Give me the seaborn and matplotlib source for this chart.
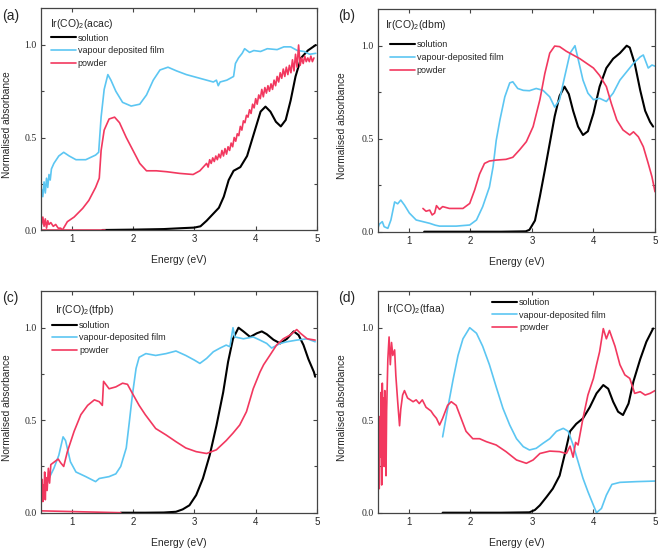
import matplotlib
matplotlib.use("Agg")
import matplotlib.pyplot as plt
import seaborn as sns
import pandas as pd
from matplotlib.lines import Line2D
from matplotlib.ticker import MultipleLocator

# ---------------- data ----------------
panel_letters = ["(a)", "(b)", "(c)", "(d)"]
panel_titles = ["Ir(CO)$_2$(acac)", "Ir(CO)$_2$(dbm)", "Ir(CO)$_2$(tfpb)", "Ir(CO)$_2$(tfaa)"]
series_names = ["solution", "vapour-deposited film", "powder"]
legend_labels_a = ["solution", "vapour deposited film", "powder"]
x_ticks = [1, 2, 3, 4, 5]
y_ticks = [0.0, 0.5, 1.0]
y_tick_labels = ["0.0", "0.5", "1.0"]

# (a) Ir(CO)2(acac)
a_sol_E = [1.5, 2.0, 2.5, 2.8, 3.0, 3.1, 3.2, 3.3, 3.4, 3.48, 3.56, 3.64, 3.75, 3.86, 3.97, 4.08, 4.16, 4.24, 4.33, 4.41, 4.49, 4.57, 4.65, 4.74, 4.85, 4.98]
a_sol_A = [0.0, 0.002, 0.005, 0.01, 0.013, 0.02, 0.05, 0.085, 0.12, 0.18, 0.27, 0.32, 0.34, 0.40, 0.52, 0.64, 0.667, 0.64, 0.585, 0.56, 0.595, 0.70, 0.83, 0.93, 0.97, 1.0]
a_vap_E = [0.49, 0.51, 0.53, 0.55, 0.57, 0.59, 0.61, 0.63, 0.65, 0.67, 0.71, 0.79, 0.87, 0.96, 1.07, 1.23, 1.39, 1.44, 1.48, 1.53, 1.59, 1.64, 1.72, 1.83, 1.97, 2.11, 2.22, 2.33, 2.44, 2.57, 2.71, 2.87, 3.09, 3.31, 3.36, 3.39, 3.42, 3.53, 3.64, 3.67, 3.72, 3.78, 3.82, 3.90, 3.97, 4.08, 4.19, 4.35, 4.46, 4.57, 4.68, 4.79, 4.88, 4.98]
a_vap_A = [0.16, 0.22, 0.18, 0.26, 0.20, 0.28, 0.23, 0.30, 0.27, 0.33, 0.36, 0.40, 0.42, 0.40, 0.38, 0.38, 0.405, 0.42, 0.61, 0.76, 0.84, 0.81, 0.75, 0.69, 0.67, 0.68, 0.73, 0.81, 0.865, 0.88, 0.86, 0.84, 0.82, 0.80, 0.81, 0.78, 0.80, 0.81, 0.83, 0.90, 0.93, 0.955, 0.98, 0.96, 0.97, 0.965, 0.98, 0.975, 0.99, 0.99, 0.97, 0.965, 0.95, 0.955]
a_pow_E = [0.49, 0.51, 0.53, 0.55, 0.57, 0.59, 0.61, 0.63, 0.66, 0.70, 0.74, 0.78, 0.82, 0.85, 0.93, 1.04, 1.18, 1.28, 1.39, 1.45, 1.48, 1.53, 1.61, 1.70, 1.78, 1.89, 2.0, 2.11, 2.22, 2.38, 2.55, 2.76, 2.98, 3.09,
           3.20, 3.225, 3.25, 3.275, 3.30, 3.325, 3.35, 3.375, 3.40, 3.425, 3.45, 3.475, 3.50, 3.525, 3.55, 3.575, 3.60, 3.625, 3.65, 3.675, 3.70, 3.725, 3.75, 3.775, 3.80, 3.825, 3.85, 3.875, 3.90, 3.925, 3.95, 3.975,
           4.00, 4.025, 4.05, 4.075, 4.10, 4.125, 4.15, 4.175, 4.20, 4.225, 4.25, 4.275, 4.30, 4.325, 4.35, 4.375, 4.40, 4.425, 4.45, 4.475, 4.50, 4.525, 4.55, 4.575, 4.60, 4.625, 4.65, 4.675, 4.70, 4.725, 4.75, 4.775, 4.80, 4.825, 4.85, 4.875, 4.90, 4.925, 4.95]
a_pow_A = [0.11, 0.03, 0.07, 0.02, 0.06, 0.01, 0.05, 0.03, 0.04, 0.02, 0.03, 0.01, 0.01, 0.0, 0.045, 0.07, 0.117, 0.16, 0.23, 0.28, 0.43, 0.54, 0.60, 0.61, 0.58, 0.50, 0.43, 0.36, 0.32, 0.32, 0.315, 0.306, 0.30, 0.32,
           0.36, 0.34, 0.38, 0.36, 0.39, 0.37, 0.40, 0.38, 0.41, 0.39, 0.43, 0.40, 0.44, 0.41, 0.45, 0.43, 0.47, 0.45, 0.50, 0.48, 0.52, 0.51, 0.56, 0.54, 0.59, 0.58, 0.62, 0.61, 0.65, 0.63, 0.68, 0.66,
           0.71, 0.68, 0.73, 0.71, 0.76, 0.72, 0.77, 0.74, 0.78, 0.75, 0.79, 0.76, 0.81, 0.78, 0.83, 0.80, 0.85, 0.82, 0.87, 0.83, 0.88, 0.84, 0.89, 0.85, 0.92, 0.86, 0.95, 0.88, 1.00, 0.89, 0.93, 0.90, 0.94, 0.91, 0.93, 0.91, 0.94, 0.91, 0.93]
a_pow_base_E = [0.5, 1.55]
a_pow_base_A = [0.0, 0.0]

# (b) Ir(CO)2(dbm)
b_sol_E = [1.25, 2.0, 2.5, 2.9, 2.96, 3.05, 3.13, 3.21, 3.29, 3.37, 3.45, 3.53, 3.60, 3.67, 3.75, 3.83, 3.91, 4.0, 4.1, 4.21, 4.32, 4.43, 4.54, 4.59, 4.67, 4.76, 4.84, 4.92, 4.97]
b_sol_A = [0.0, 0.0, 0.0, 0.002, 0.01, 0.06, 0.19, 0.33, 0.475, 0.62, 0.73, 0.78, 0.74, 0.65, 0.565, 0.52, 0.54, 0.636, 0.78, 0.88, 0.93, 0.96, 1.0, 0.99, 0.905, 0.76, 0.65, 0.59, 0.565]
b_vap_E = [0.48, 0.52, 0.57, 0.60, 0.66, 0.71, 0.77, 0.82, 0.87, 0.93, 1.01, 1.12, 1.34, 1.43, 1.5, 1.77, 1.99, 2.1, 2.2, 2.31, 2.37, 2.42, 2.48, 2.56, 2.64, 2.69, 2.77, 2.86, 2.96, 3.07, 3.18, 3.29, 3.37, 3.45, 3.53, 3.62, 3.70, 3.75, 3.83, 3.91, 4.0, 4.1, 4.21, 4.32, 4.43, 4.54, 4.65, 4.76, 4.81, 4.89, 4.95, 5.0]
b_vap_A = [0.0, 0.04, 0.054, 0.027, 0.018, 0.063, 0.16, 0.15, 0.17, 0.143, 0.10, 0.063, 0.045, 0.035, 0.03, 0.03, 0.036, 0.063, 0.134, 0.24, 0.35, 0.49, 0.60, 0.725, 0.80, 0.806, 0.77, 0.76, 0.758, 0.77, 0.76, 0.725, 0.67, 0.71, 0.83, 0.96, 1.0, 0.93, 0.815, 0.745, 0.71, 0.717, 0.70, 0.745, 0.815, 0.86, 0.905, 0.94, 0.95, 0.88, 0.896, 0.89]
b_pow_E = [1.23, 1.28, 1.34, 1.38, 1.42, 1.45, 1.5, 1.55, 1.66, 1.88, 1.99, 2.07, 2.15, 2.23, 2.31, 2.42, 2.58, 2.69, 2.8, 2.91, 3.02, 3.13, 3.21, 3.29, 3.37, 3.45, 3.56, 3.67, 3.78, 3.89, 4.0, 4.1, 4.21, 4.29, 4.38, 4.48, 4.59, 4.65, 4.73, 4.81, 4.89, 4.95, 5.0]
b_pow_A = [0.125, 0.11, 0.116, 0.09, 0.10, 0.14, 0.12, 0.135, 0.125, 0.125, 0.152, 0.224, 0.31, 0.367, 0.38, 0.385, 0.389, 0.40, 0.44, 0.484, 0.565, 0.71, 0.85, 0.96, 0.998, 0.995, 0.97, 0.95, 0.93, 0.905, 0.88, 0.84, 0.78, 0.69, 0.60, 0.547, 0.52, 0.537, 0.51, 0.457, 0.367, 0.296, 0.215]

# (c) Ir(CO)2(tfpb)
c_sol_E = [1.8, 2.2, 2.5, 2.7, 2.81, 2.92, 3.03, 3.14, 3.25, 3.36, 3.47, 3.55, 3.63, 3.72, 3.80, 3.91, 4.02, 4.10, 4.18, 4.29, 4.40, 4.51, 4.62, 4.70, 4.78, 4.86, 4.95, 4.97]
c_sol_A = [0.0, 0.0, 0.001, 0.005, 0.018, 0.04, 0.095, 0.185, 0.31, 0.47, 0.65, 0.815, 0.94, 1.0, 0.98, 0.95, 0.97, 0.98, 0.965, 0.935, 0.915, 0.94, 0.98, 0.96, 0.906, 0.83, 0.76, 0.735]
c_vap_E = [0.55, 0.63, 0.71, 0.79, 0.86, 0.90, 0.98, 1.07, 1.23, 1.39, 1.45, 1.61, 1.72, 1.80, 1.89, 1.94, 1.99, 2.05, 2.10, 2.21, 2.37, 2.54, 2.70, 2.86, 3.0, 3.09, 3.2, 3.31, 3.42, 3.52, 3.58, 3.63, 3.66, 3.80, 3.96, 4.07, 4.18, 4.26, 4.40, 4.51, 4.67, 4.84, 4.97]
c_vap_A = [0.12, 0.185, 0.24, 0.31, 0.41, 0.39, 0.275, 0.22, 0.195, 0.168, 0.185, 0.195, 0.21, 0.25, 0.35, 0.49, 0.636, 0.78, 0.84, 0.86, 0.85, 0.86, 0.874, 0.85, 0.825, 0.807, 0.834, 0.87, 0.89, 0.906, 0.897, 1.0, 0.95, 0.94, 0.95, 0.933, 0.915, 0.89, 0.915, 0.924, 0.933, 0.94, 0.924]
c_pow_E = [0.49, 0.50, 0.51, 0.52, 0.53, 0.54, 0.55, 0.56, 0.57, 0.58, 0.60, 0.62, 0.64, 0.66, 0.70, 0.74, 0.78, 0.82, 0.87, 0.93, 1.04, 1.15, 1.26, 1.37, 1.45, 1.50, 1.52, 1.61, 1.72, 1.83, 1.91, 1.99, 2.10, 2.20, 2.37, 2.54, 2.70, 2.86, 3.03, 3.20, 3.36, 3.52, 3.63, 3.74, 3.85, 3.96, 4.07, 4.13, 4.23, 4.34, 4.45, 4.56, 4.67, 4.73, 4.84, 4.97]
c_pow_A = [0.0, 0.20, 0.08, 0.18, 0.06, 0.15, 0.10, 0.22, 0.07, 0.19, 0.12, 0.24, 0.16, 0.26, 0.27, 0.28, 0.29, 0.27, 0.25, 0.33, 0.44, 0.53, 0.58, 0.61, 0.60, 0.58, 0.71, 0.67, 0.68, 0.70, 0.694, 0.645, 0.58, 0.53, 0.455, 0.42, 0.384, 0.35, 0.33, 0.32, 0.34, 0.39, 0.43, 0.474, 0.546, 0.67, 0.76, 0.80, 0.85, 0.906, 0.94, 0.96, 0.99, 0.97, 0.94, 0.933]
c_pow_base_E = [0.5, 1.8]
c_pow_base_A = [0.01, 0.0]

# (d) Ir(CO)2(tfaa)
d_sol_E = [1.55, 2.0, 2.5, 2.96, 3.05, 3.13, 3.24, 3.34, 3.45, 3.53, 3.62, 3.72, 3.83, 3.94, 4.05, 4.16, 4.24, 4.32, 4.40, 4.48, 4.57, 4.65, 4.76, 4.86, 4.97]
d_sol_A = [0.0, 0.0, 0.0, 0.002, 0.015, 0.04, 0.086, 0.13, 0.20, 0.31, 0.44, 0.48, 0.51, 0.57, 0.645, 0.69, 0.67, 0.60, 0.546, 0.528, 0.59, 0.71, 0.83, 0.924, 0.996]
d_vap_E = [1.55, 1.63, 1.72, 1.80, 1.88, 1.99, 2.10, 2.20, 2.31, 2.42, 2.53, 2.64, 2.75, 2.86, 2.96, 3.07, 3.18, 3.29, 3.40, 3.51, 3.59, 3.67, 3.75, 3.83, 3.91, 4.0, 4.05, 4.13, 4.21, 4.30, 4.43, 4.70, 5.0]
d_vap_A = [0.41, 0.56, 0.72, 0.85, 0.94, 1.0, 0.97, 0.90, 0.80, 0.68, 0.564, 0.474, 0.40, 0.357, 0.339, 0.348, 0.375, 0.40, 0.44, 0.456, 0.44, 0.366, 0.276, 0.186, 0.114, 0.04, 0.0, 0.023, 0.095, 0.153, 0.164, 0.168, 0.171]
d_pow_E = [0.50, 0.51, 0.52, 0.53, 0.54, 0.55, 0.56, 0.57, 0.58, 0.59, 0.60, 0.61, 0.62, 0.63, 0.64, 0.66, 0.68, 0.70, 0.72, 0.74, 0.77, 0.79, 0.82, 0.85, 0.87, 0.90, 0.93, 0.98, 1.07, 1.12, 1.17, 1.22, 1.28, 1.36, 1.40, 1.45, 1.50, 1.55, 1.63, 1.69, 1.77, 1.85, 1.93, 2.04, 2.15, 2.26, 2.42, 2.58, 2.75, 2.91, 3.02, 3.13, 3.29, 3.45, 3.56, 3.62, 3.67, 3.71, 3.75, 3.83, 3.91, 4.0, 4.05, 4.10, 4.16, 4.21, 4.26, 4.35, 4.43, 4.51, 4.59, 4.67, 4.76, 4.84, 4.92, 5.0]
d_pow_A = [0.005, 0.38, 0.13, 0.52, 0.30, 0.65, 0.15, 0.70, 0.45, 0.62, 0.25, 0.66, 0.40, 0.20, 0.55, 0.83, 0.95, 0.80, 0.92, 0.85, 0.88, 0.74, 0.60, 0.47, 0.56, 0.636, 0.66, 0.62, 0.60, 0.61, 0.59, 0.61, 0.57, 0.55, 0.53, 0.51, 0.474, 0.51, 0.58, 0.60, 0.58, 0.51, 0.44, 0.40, 0.40, 0.384, 0.366, 0.33, 0.285, 0.267, 0.285, 0.32, 0.333, 0.33, 0.32, 0.36, 0.30, 0.38, 0.366, 0.51, 0.636, 0.726, 0.80, 0.87, 0.995, 0.94, 0.985, 0.90, 0.80, 0.745, 0.726, 0.645, 0.654, 0.636, 0.645, 0.66]

panels = [
    [(a_sol_E, a_sol_A), (a_vap_E, a_vap_A), (a_pow_E, a_pow_A), (a_pow_base_E, a_pow_base_A)],
    [(b_sol_E, b_sol_A), (b_vap_E, b_vap_A), (b_pow_E, b_pow_A), None],
    [(c_sol_E, c_sol_A), (c_vap_E, c_vap_A), (c_pow_E, c_pow_A), (c_pow_base_E, c_pow_base_A)],
    [(d_sol_E, d_sol_A), (d_vap_E, d_vap_A), (d_pow_E, d_pow_A), None],
]

# ---------------- style ----------------
sns.set_style("ticks")
plt.rcParams["font.family"] = ["Liberation Sans", "DejaVu Sans"]
plt.rcParams["mathtext.default"] = "regular"

BLACK = "#000000"
BLUE = "#5CC6F2"
RED = "#F2385F"
colors = [BLACK, BLUE, RED, RED]
widths = [1.5, 1.2, 1.2, 1.2]

fig = plt.figure(figsize=(6.6, 5.5), dpi=100)
W, H = 660.0, 550.0
boxes = [(41, 317, 8, 230), (378, 655, 8.5, 231.7), (41, 317, 290.7, 512.7), (378, 655, 290.7, 512.7)]

title_pos = [(0.033, 0.926), (0.026, 0.926), (0.05, 0.913), (0.029, 0.917)]
legend_pos = [(0.035, 0.885), (0.042, 0.858), (0.040, 0.865), (0.411, 0.968)]
letter_pos = [(2, 16), (338, 16), (2, 298), (338, 298)]
ylabel_x = [-0.105, -0.112, -0.105, -0.112]

for i, (l, r, t, b) in enumerate(boxes):
    ax = fig.add_axes([l / W, 1 - b / H, (r - l) / W, (b - t) / H])
    for j, s in enumerate(panels[i]):
        if s is None:
            continue
        df = pd.DataFrame({"E": s[0], "A": s[1]})
        sns.lineplot(data=df, x="E", y="A", ax=ax, color=colors[j], lw=widths[j],
                     sort=False, estimator=None)
    ax.set_xlim(0.5, 5.0)
    ax.set_ylim(0, 1.2)
    ax.set_xticks(x_ticks)
    ax.set_xticklabels([str(v) for v in x_ticks], fontsize=7)
    ax.set_yticks(y_ticks)
    ax.set_yticklabels(y_tick_labels, fontsize=7, family=["Liberation Serif"])
    ax.yaxis.set_minor_locator(MultipleLocator(0.25))
    ax.tick_params(which="both", direction="in", top=True, right=True, length=3,
                   width=0.8, color="#444444", pad=3)
    ax.tick_params(which="minor", length=2)
    ax.tick_params(axis="x", which="minor", top=False, bottom=False)
    for sp in ax.spines.values():
        sp.set_visible(True)
        sp.set_color("#444444")
        sp.set_linewidth(0.9)
    ax.set_xlabel("Energy (eV)", fontsize=7.5, labelpad=8)
    ax.set_ylabel("Normalised absorbance", fontsize=7.3)
    ax.yaxis.set_label_coords(ylabel_x[i], 0.475)
    ax.text(title_pos[i][0], title_pos[i][1], panel_titles[i], transform=ax.transAxes,
            fontsize=7.5, va="center", ha="left")
    labels = legend_labels_a if i == 0 else series_names
    handles = [Line2D([0], [0], color=colors[k], lw=widths[k]) for k in range(3)]
    ax.legend(handles, labels, loc="upper left", bbox_to_anchor=legend_pos[i],
              frameon=False, fontsize=6.5, handlelength=2.8, handletextpad=0.2,
              labelspacing=0.42, borderpad=0, borderaxespad=0)
    fig.text(letter_pos[i][0] / W, 1 - letter_pos[i][1] / H, panel_letters[i],
             fontsize=10, va="center", ha="left")

fig.savefig("out.png", dpi=100)
